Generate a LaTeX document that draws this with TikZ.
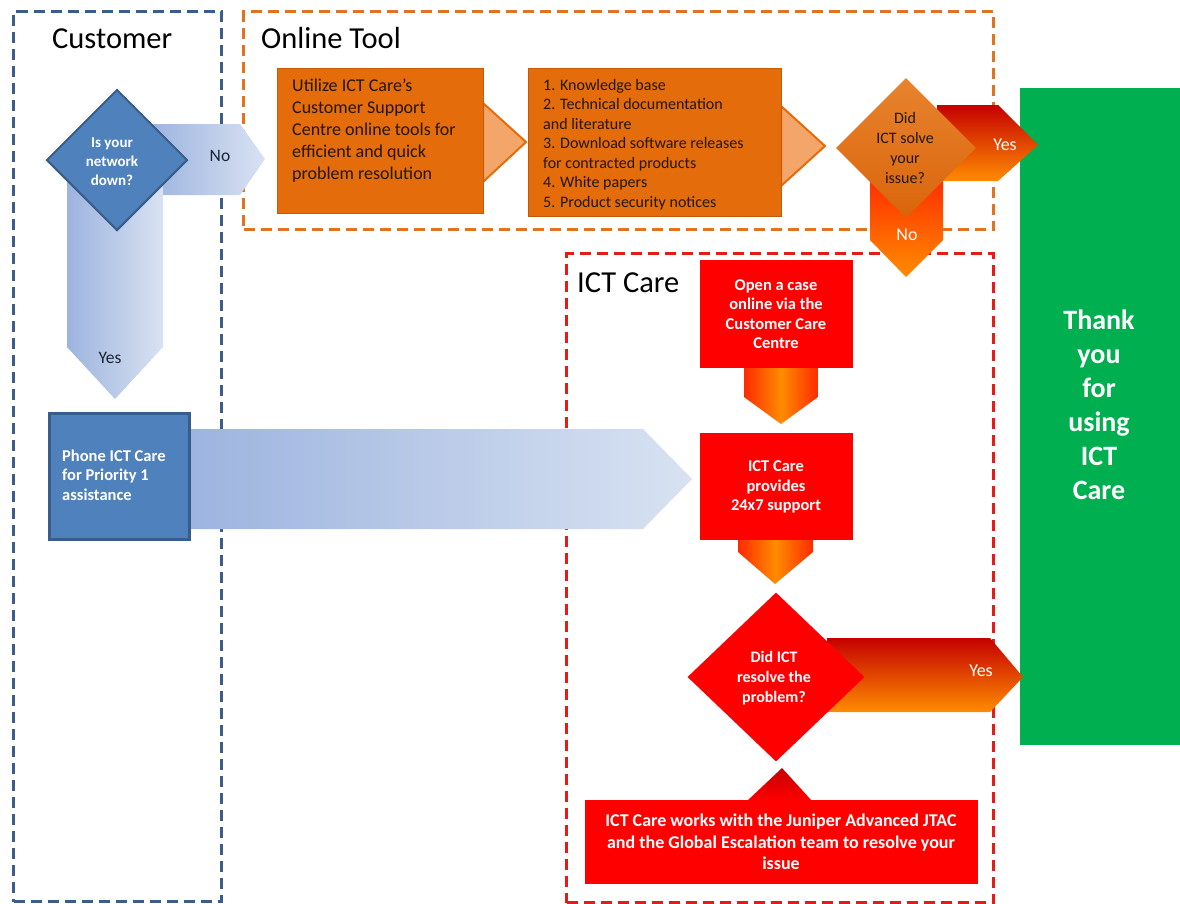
\documentclass[tikz,border=0pt]{standalone}
\usepackage{fontspec}
\setmainfont{Carlito}
\usetikzlibrary{shapes.geometric,calc}
\definecolor{laneblue}{HTML}{3A5D8A}
\definecolor{laneorange}{HTML}{E2731E}
\definecolor{lanered}{HTML}{E41B17}
\definecolor{bluefill}{HTML}{4F81BD}
\definecolor{blueedge}{HTML}{385D8A}
\definecolor{orangefill}{HTML}{E46C0A}
\definecolor{orangetop}{HTML}{E8832E}
\definecolor{orangebot}{HTML}{D9650A}
\definecolor{chevfill}{HTML}{F4A66A}
\definecolor{redfill}{HTML}{FF0000}
\definecolor{greenfill}{HTML}{00B050}
\definecolor{darktext}{HTML}{24160A}
\definecolor{labeltext}{HTML}{1C2433}
\definecolor{arrowdark}{HTML}{9DB4DF}
\definecolor{arrowlight}{HTML}{D8E2F2}
\definecolor{darkred}{HTML}{C40000}
\definecolor{redorange}{HTML}{FF2A00}
\definecolor{brightorange}{HTML}{FF8C00}
\newcommand{\fsz}[2]{\fontsize{#1}{#2}\selectfont}
\begin{document}
\begin{tikzpicture}[x=1pt,y=-1pt,
  lanebox/.style={dash pattern=on 11pt off 6pt, line width=3pt, inner sep=0, anchor=north west},
  title/.style={font=\fsz{30.5}{34}, text=black, inner sep=0, anchor=base west},
  bbox/.style={draw=blueedge, line width=3pt, fill=bluefill, inner sep=0, anchor=north west},
  obox/.style={fill=orangefill, draw=orangefill!85!black, line width=0.6pt, inner sep=0, anchor=north west},
  rbox/.style={fill=redfill, inner sep=0, anchor=north west},
  wtext/.style={text=white, font=\bfseries\fsz{16.5}{19.5}, align=center, inner sep=0},
  dtext/.style={text=darktext, inner sep=0, align=left, anchor=north west},
  lbl/.style={text=labeltext, font=\fsz{17.5}{20}, inner sep=0},
  wlbl/.style={text=white, font=\fsz{18}{20}, inner sep=0},
  chev/.style={fill=chevfill, draw=orangefill, line width=2pt, line join=round},
  bluearrow/.style={left color=arrowdark, right color=arrowlight},
  redarrow/.style={top color=darkred, middle color=red, bottom color=brightorange},
  downarrow/.style={left color=redorange, right color=redorange, middle color=brightorange},
  dmd/.style={diamond, inner sep=0}
]
\useasboundingbox (0,0) rectangle (1180,903);
\fill[white] (0,0) rectangle (1180,903);

% lanes
\node[lanebox, draw=laneblue, minimum width=208, minimum height=890] (custLane) at (12,10) {};
\node[lanebox, draw=laneorange, minimum width=750, minimum height=218] (toolLane) at (242,10) {};
\node[lanebox, draw=lanered, minimum width=427, minimum height=649] (careLane) at (565,252) {};

\node[title] (custTitle) at (52,48) {Customer};
\node[title] (toolTitle) at (261,48) {Online Tool};
\node[title] (careTitle) at (577,292) {ICT Care};

% green box
\node[fill=greenfill, inner sep=0, anchor=north west, minimum width=160, minimum height=657] (thanks) at (1020,88) {};
\node[text=white, font=\bfseries\fsz{28}{34}, align=center, inner sep=0] (thanksT) at (1099,405) {Thank\\you\\for\\using\\ICT\\Care};

% block arrows (customer)
\shade[bluearrow] (150,124) -- (240,124) -- (265,159) -- (240,195) -- (150,195) -- cycle;
\shade[bluearrow] (67,175) -- (163,175) -- (163,347) -- (115,399) -- (67,347) -- cycle;
\shade[bluearrow] (188,429) -- (643,429) -- (692,479) -- (643,529) -- (188,529) -- cycle;

% customer shapes
\node[dmd, draw=blueedge, line width=2pt, fill=bluefill, minimum width=141, minimum height=141] (down) at (117,160) {};
\node[wtext, font=\bfseries\fsz{15}{19}] (downT) at (112,162) {Is your\\network\\down?};
\node[lbl] (noLbl) at (220,156) {No};
\node[lbl] (yesLbl) at (110,358) {Yes};

\node[bbox, minimum width=140, minimum height=126] (phone) at (48,412) {};
\node[wtext, align=left, anchor=west] (phoneT) at (62,475) {Phone ICT Care\\for Priority 1\\assistance};

% online tool
\draw[chev] (483,103) -- (526,142) -- (483,182) -- cycle;
\draw[chev] (781,106) -- (825,146) -- (781,186) -- cycle;
\node[obox, minimum width=206, minimum height=145] (tool) at (277,68) {};
\node[dtext, font=\fsz{18}{22}] (toolT) at (292,79) {Utilize ICT Care’s\\Customer Support\\Centre online tools for\\efficient and quick\\problem resolution};
\node[obox, minimum width=253, minimum height=148] (res) at (528,68) {};
\node[dtext, font=\fsz{16}{19.5}] (resT) at (543,79) {1. Knowledge base\\2. Technical documentation\\and literature\\3. Download software releases\\for contracted products\\4. White papers\\5. Product security notices};

\shade[redarrow] (937,105) -- (998,105) -- (1038,145) -- (998,181) -- (937,181) -- cycle;
\shade[top color=redorange, bottom color=brightorange] (870,175) -- (943,175) -- (943,240) -- (906,277) -- (870,240) -- cycle;
\node[dmd, top color=orangetop, bottom color=orangebot, minimum width=140, minimum height=140] (solved) at (906,148) {};
\node[text=darktext, font=\fsz{16}{20}, align=center, inner sep=0] (solvedT) at (905,148) {Did\\ICT solve\\your\\issue?};
\node[wlbl] (yesA) at (1005,145) {Yes};
\node[wlbl] (noA) at (907,235) {No};

% ICT care
\shade[downarrow] (744,366) -- (818,366) -- (818,397) -- (781,424) -- (744,397) -- cycle;
\shade[downarrow] (738,538) -- (813,538) -- (813,552) -- (775,584) -- (738,552) -- cycle;
\node[rbox, minimum width=153, minimum height=108] (openCase) at (700,260) {};
\node[wtext] (openCaseT) at (776,314) {Open a case\\online via the\\Customer Care\\Centre};
\node[rbox, minimum width=153, minimum height=107] (support) at (700,433) {};
\node[wtext] (supportT) at (776,487) {ICT Care\\provides\\24x7 support};

\shade[redarrow] (827,638) -- (990,638) -- (1023,677) -- (990,712) -- (827,712) -- cycle;
\node[dmd, fill=redfill, minimum width=177, minimum height=169] (resolved) at (776,677) {};
\node[wtext, font=\bfseries\fsz{16}{20}] (resolvedT) at (774,678) {Did ICT\\resolve the\\problem?};
\node[wlbl] (yesB) at (981,671) {Yes};

\shade[top color=darkred, bottom color=redfill] (747,801) -- (782,768) -- (812,801) -- cycle;
\node[rbox, minimum width=393, minimum height=84] (escal) at (585,800) {};
\node[wtext, font=\bfseries\fsz{18}{21.5}] (escalT) at (781,842) {ICT Care works with the Juniper Advanced JTAC\\and the Global Escalation team to resolve your\\issue};
\end{tikzpicture}
\end{document}
